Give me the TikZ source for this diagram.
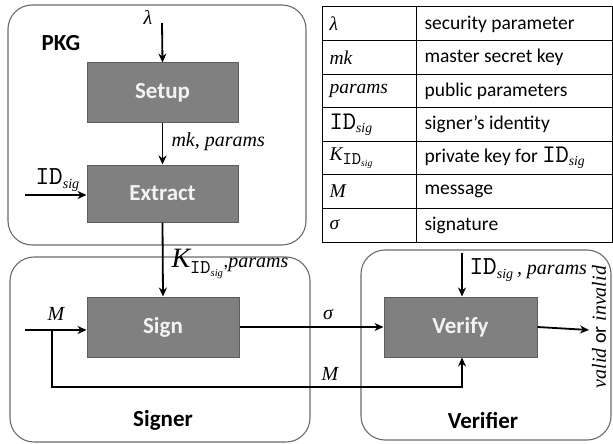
\documentclass[tikz,border=0pt]{standalone}
\usepackage{fontspec}
\setmainfont{Carlito}
\setmonofont{lmmono10-regular.otf}[Scale=1.3]
\newfontfamily\tms{Liberation Serif}
\usetikzlibrary{arrows.meta}
\newcommand{\mi}[1]{{\tms\itshape #1}}
\newcommand{\IDs}{{\ttfamily ID}\textsubscript{\tms\itshape sig}}
\definecolor{boxfill}{HTML}{808080}
\definecolor{boxedge}{HTML}{5E5E5E}
\definecolor{frame}{HTML}{6A6A6A}
\definecolor{boxtext}{HTML}{F2F2F2}
\begin{document}
\begin{tikzpicture}[x=1pt,y=-1pt,
  group/.style={draw=frame,line width=1.1pt,rounded corners=24pt},
  algo/.style={draw=boxedge,fill=boxfill,line width=1pt,text=boxtext,font=\fontsize{23}{26}\selectfont\bfseries},
  grouplabel/.style={font=\fontsize{23}{26}\selectfont\bfseries},
  lbl/.style={font=\fontsize{20}{23}\selectfont},
  flow/.style={line width=1.8pt,-{Stealth[length=9pt,width=8pt]}},
  line/.style={line width=1.8pt}]
\useasboundingbox (0,0) rectangle (613,444);
% groups
\draw[group] (8,5) rectangle (306,245);
\draw[group] (10,257) rectangle (310,442);
\draw[group] (361,250) rectangle (611,440);
\node[grouplabel] (pkg) at (61,43) {PKG};
\node[grouplabel] (signer) at (163,420) {Signer};
\node[grouplabel] (verifier) at (483,420) {Verifier};
% algorithm boxes
\node[algo,minimum width=151pt,minimum height=59pt] (setup) at (162.5,92.5) {Setup};
\node[algo,minimum width=151pt,minimum height=57pt] (extract) at (162.5,193.5) {Extract};
\node[algo,minimum width=152pt,minimum height=60pt] (sign) at (163,327) {Sign};
\node[algo,minimum width=153pt,minimum height=60pt] (verify) at (460.5,327) {Verify};
% coordinates
\coordinate (lam) at (162,23);
\coordinate (idin) at (25,195);
\coordinate (min) at (25,330);
\coordinate (br) at (52,330);
\coordinate (brd) at (52,387);
\coordinate (vin) at (462,253);
\coordinate (out) at (589,330);
% arrows
\draw[flow] (lam) -- (setup.north);
\draw[flow] (setup.south) -- (extract.north);
\draw[flow] (idin) -- (idin -| extract.west);
\draw[flow] (extract.south) -- (sign.north);
\draw[flow] (min) -- (min -| sign.west);
\draw[flow] (br) -- (brd) -- (brd -| vin) -- (vin |- verify.south);
\draw[flow] (sign.east) -- (verify.west);
\draw[flow] (vin) -- (vin |- verify.north);
\draw[flow] (verify.east) -- (out);
% labels
\node[lbl] (llam) at (148,17) {\mi{λ}};
\node[lbl,anchor=west] (lmk) at (168,142) {\mi{mk, params}};
\node[lbl,anchor=west] (lid) at (32,180) {\IDs};
\node[lbl,anchor=west] (lk) at (168,264) {{\fontsize{28}{30}\selectfont\mi{K}}\raisebox{-6pt}{\fontsize{15}{17}\selectfont\ttfamily ID\textsubscript{\tms\itshape sig}},\mi{params}};
\node[lbl] (lm1) at (56,314) {\mi{M}};
\node[lbl] (lsig) at (328,314) {\mi{σ}};
\node[lbl] (lm2) at (330,374) {\mi{M}};
\node[lbl,anchor=west] (lvin) at (466,270) {\IDs\,\mi{, params}};
\node[lbl,rotate=90] (lout) at (599,327) {\mi{valid} or \mi{invalid}};
% table
\draw[line width=1pt] (322,7) rectangle (612,242);
\draw[line width=0.8pt] (416,7) -- (416,242);
\foreach \i in {1,...,6} {\draw[line width=0.8pt] (322,7+33.57*\i) -- (612,7+33.57*\i);}
\begin{scope}[every node/.style={anchor=west,font=\fontsize{19.5}{22}\selectfont}]
\node (t1a) at (326,24) {\mi{λ}};
\node (t1b) at (421,24) {security parameter};
\node (t2a) at (326,57.5) {\mi{mk}};
\node (t2b) at (421,57.5) {master secret key};
\node (t3a) at (326,91) {\mi{params}};
\node (t3b) at (421,91) {public parameters};
\node (t4a) at (326,124.5) {\IDs};
\node (t4b) at (421,124.5) {signer’s identity};
\node (t5a) at (326,158) {\mi{K}\textsubscript{\ttfamily ID\textsubscript{\tms\itshape sig}}};
\node (t5b) at (421,158) {private key for \IDs};
\node (t6a) at (326,191.5) {\mi{M}};
\node (t6b) at (421,191.5) {message};
\node (t7a) at (326,225) {\mi{σ}};
\node (t7b) at (421,225) {signature};
\end{scope}
\end{tikzpicture}
\end{document}
